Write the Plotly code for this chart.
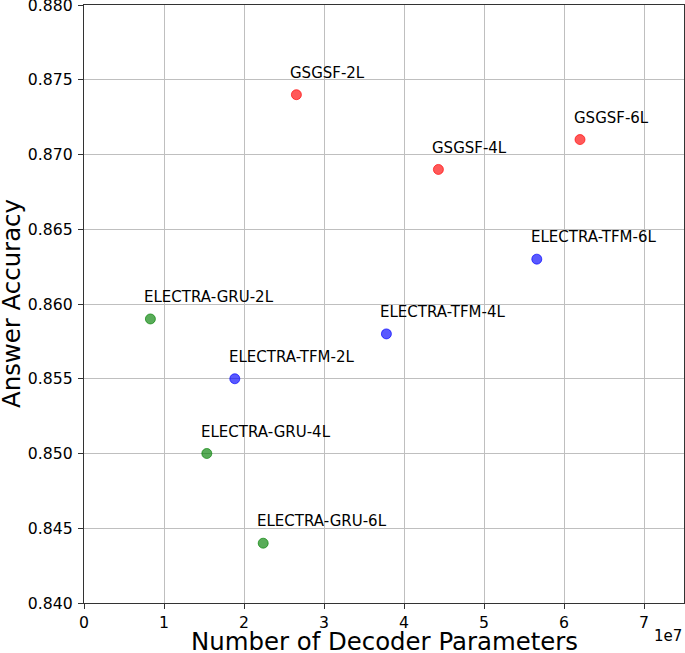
import plotly.graph_objects as go

labels = ["GSGSF-2L", "GSGSF-4L", "GSGSF-6L",
          "ELECTRA-TFM-2L", "ELECTRA-TFM-4L", "ELECTRA-TFM-6L",
          "ELECTRA-GRU-2L", "ELECTRA-GRU-4L", "ELECTRA-GRU-6L"]
params = [2.655e7, 4.43e7, 6.2e7,
          1.885e7, 3.78e7, 5.66e7,
          0.83e7, 1.535e7, 2.24e7]
accuracy = [0.874, 0.869, 0.871,
            0.855, 0.858, 0.863,
            0.859, 0.850, 0.844]
groups = ["GSGSF"] * 3 + ["TFM"] * 3 + ["GRU"] * 3
group_colors = {"GSGSF": "rgba(255,0,0,0.65)",
                "TFM": "rgba(0,0,255,0.65)",
                "GRU": "rgba(0,128,0,0.65)"}
x_tickvals = [0, 1e7, 2e7, 3e7, 4e7, 5e7, 6e7, 7e7]
x_ticktext = ["0", "1", "2", "3", "4", "5", "6", "7"]
y_tickvals = [0.840, 0.845, 0.850, 0.855, 0.860, 0.865, 0.870, 0.875, 0.880]

FONT = "DejaVu Sans"

fig = go.Figure()
for g in ["GSGSF", "TFM", "GRU"]:
    idx = [i for i, gg in enumerate(groups) if gg == g]
    fig.add_trace(go.Scatter(
        x=[params[i] for i in idx],
        y=[accuracy[i] for i in idx],
        mode="markers",
        marker=dict(size=10, color=group_colors[g],
                    line=dict(color=group_colors[g], width=1)),
        showlegend=False,
        hoverinfo="skip",
    ))

for lab, xv, yv in zip(labels, params, accuracy):
    fig.add_annotation(
        x=xv - 1.0e6, y=yv + 0.001, text=lab, showarrow=False,
        xanchor="left", yanchor="bottom", yshift=-4,
        font=dict(family=FONT, size=15, color="black"),
    )

# offset text
fig.add_annotation(
    x=1, y=0, xref="paper", yref="paper", text="1e7", showarrow=False,
    xanchor="right", yanchor="middle", yshift=-33, xshift=0,
    font=dict(family=FONT, size=15, color="black"),
)
# axis titles
fig.add_annotation(
    x=0.5, y=0, xref="paper", yref="paper", text="Number of Decoder Parameters",
    showarrow=False, xanchor="center", yanchor="middle", yshift=-38,
    font=dict(family=FONT, size=24.4, color="black"),
)
fig.add_annotation(
    x=0, y=0.5, xref="paper", yref="paper", text="Answer Accuracy",
    showarrow=False, xanchor="center", yanchor="middle", xshift=-73,
    textangle=-90,
    font=dict(family=FONT, size=24.4, color="black"),
)

axis_common = dict(
    showgrid=True, gridcolor="#bfbfbf", gridwidth=1.3,
    showline=True, linecolor="#333333", linewidth=1.3, mirror=True,
    ticks="outside", ticklen=5, tickwidth=1.2, tickcolor="#333333",
    zeroline=False, automargin=False, ticklabeloverflow="allow",
    tickfont=dict(family=FONT, size=15.7, color="black"),
)

fig.update_layout(
    width=685, height=653,
    margin=dict(l=84, r=1, t=5, b=50),
    plot_bgcolor="white", paper_bgcolor="white",
    xaxis=dict(range=[0, 7.5e7], tickvals=x_tickvals, ticktext=x_ticktext,
               **axis_common),
    yaxis=dict(range=[0.840, 0.880], tickvals=y_tickvals, tickformat=".3f",
               ticklabelstandoff=2, **axis_common),
)

fig.write_html(
    "out.html",
    config={"displayModeBar": False},
    post_script="document.body.style.margin='0px';document.body.style.padding='0px';document.body.style.overflow='hidden';",
)
